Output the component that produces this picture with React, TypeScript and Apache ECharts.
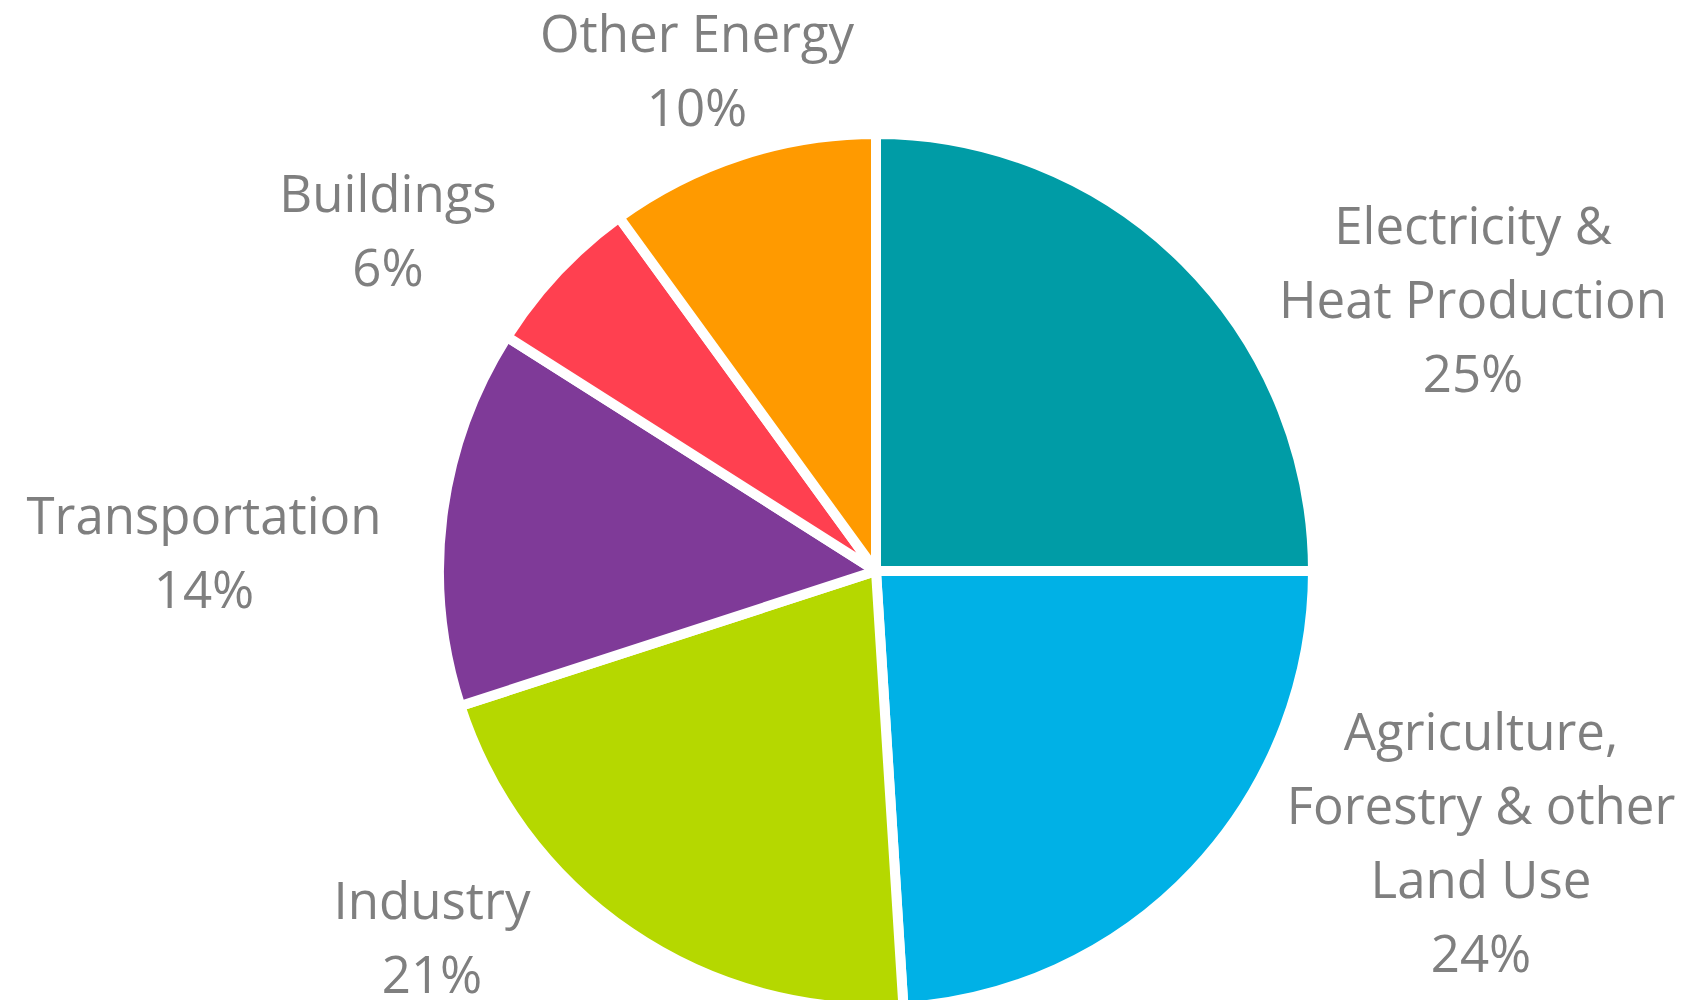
import React, { useEffect, useRef } from "react";
import * as echarts from "echarts";

const categories = [
  "Electricity &\nHeat Production",
  "Agriculture,\nForestry & other\nLand Use",
  "Industry",
  "Transportation",
  "Buildings",
  "Other Energy",
];
const values = [25, 24, 21, 14, 6, 10];
const colors = ["#009CA6", "#00B1E6", "#B5D800", "#7F3A98", "#FF4050", "#FF9A00"];

// label block centres (layout, px)
const labelCenters: [number, number][] = [
  [1473, 298],
  [1481, 841],
  [432, 936],
  [204, 551],
  [388, 229],
  [697, 69],
];

export default function App() {
  const ref = useRef<HTMLDivElement>(null);
  useEffect(() => {
    if (!ref.current) return;
    const chart = echarts.init(ref.current, null, { renderer: "svg" });
    chart.setOption({
      animation: false,
      backgroundColor: "#ffffff",
      series: [
        {
          type: "pie",
          center: [876, 571],
          radius: [0, 437],
          startAngle: 90,
          clockwise: true,
          avoidLabelOverlap: false,
          data: categories.map((name, i) => ({
            name,
            value: values[i],
            itemStyle: { color: colors[i] },
          })),
          itemStyle: { borderColor: "#ffffff", borderWidth: 10 },
          label: {
            show: true,
            position: "outside",
            formatter: "{b}\n{c}%",
            color: "#7F7F7F",
            fontFamily: "Open Sans",
            fontSize: 51,
            lineHeight: 74,
            align: "center",
          },
          labelLine: { show: false },
          labelLayout: (params: any) => {
            const p = labelCenters[params.dataIndex];
            return { x: p[0], y: p[1], align: "center", verticalAlign: "middle" };
          },
          emphasis: { disabled: true },
        },
      ],
    });
    return () => chart.dispose();
  }, []);
  return (
    <div
      ref={ref}
      style={{ position: "fixed", left: 0, top: 0, width: 1707, height: 1000 }}
    />
  );
}
